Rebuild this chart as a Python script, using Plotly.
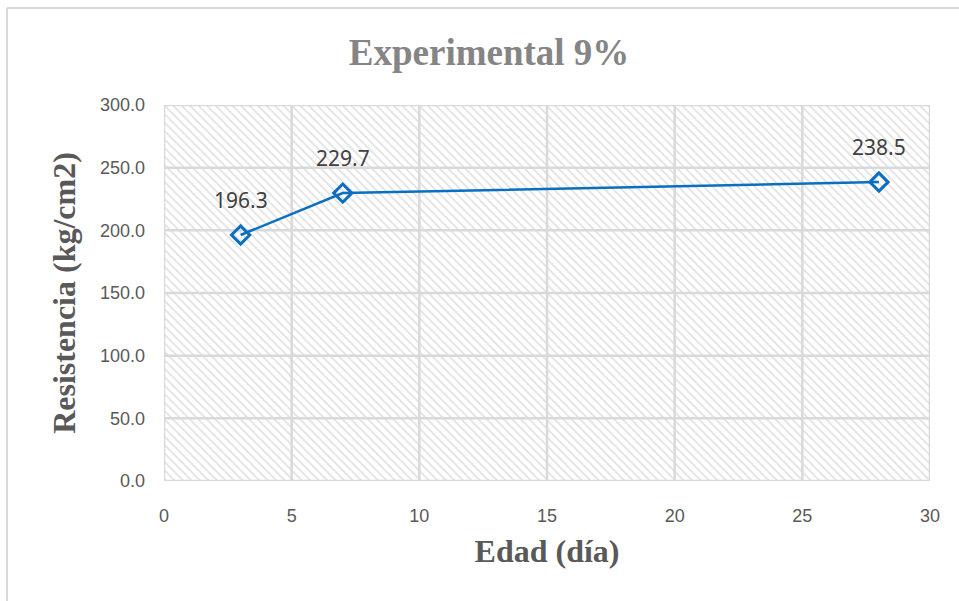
import plotly.graph_objects as go

# Compressive strength over curing age
edad_dias = [3, 7, 28]
resistencia = [196.3, 229.7, 238.5]

x_range = [0, 30]
y_range = [0, 300]
x_ticks = [0, 5, 10, 15, 20, 25, 30]
y_ticks = [0, 50, 100, 150, 200, 250, 300]
y_tick_text = [f"{v:.1f}" for v in y_ticks]

W, H = 959, 601
ML, MR, MT, MB = 164, 29, 105, 120
GRID = "#d9d9d9"

fig = go.Figure()

# Hatched plot-area background
fig.add_trace(go.Scatter(
    x=[x_range[0], x_range[1], x_range[1], x_range[0], x_range[0]],
    y=[y_range[0], y_range[0], y_range[1], y_range[1], y_range[0]],
    mode="lines", line=dict(width=0), fill="toself",
    fillcolor="rgba(0,0,0,0)",
    fillpattern=dict(shape="\\", fgcolor="#c4c4c4", bgcolor="white",
                     size=6, solidity=0.3),
    hoverinfo="skip", showlegend=False,
))

# Gridlines drawn over the hatch, under the data
gx, gy = [], []
for t in x_ticks:
    gx += [t, t, None]
    gy += [y_range[0], y_range[1], None]
for t in y_ticks:
    gx += [x_range[0], x_range[1], None]
    gy += [t, t, None]
fig.add_trace(go.Scatter(x=gx, y=gy, mode="lines",
                         line=dict(color=GRID, width=2.5),
                         hoverinfo="skip", showlegend=False, cliponaxis=False))

fig.add_trace(go.Scatter(
    x=edad_dias, y=resistencia, mode="lines+markers",
    line=dict(color="#0a6fc2", width=2.5),
    marker=dict(symbol="diamond-open", size=14, color="#0a6fc2",
                line=dict(width=3, color="#0a6fc2")),
    showlegend=False,
))

for xv, yv in zip(edad_dias, resistencia):
    fig.add_annotation(x=xv, y=yv, text=f"{yv:.1f}", showarrow=False,
                       yshift=35, font=dict(family="Noto Sans", size=21, color="#404040"))

# Outer chart border (left and top edges)
def px_to_paper_x(px):
    return (px - ML) / (W - ML - MR)

def px_to_paper_y(py):
    return (H - MB - py) / (H - MT - MB)

border = dict(color="#d9d9d9", width=2)
fig.add_shape(type="line", xref="paper", yref="paper",
              x0=px_to_paper_x(7), x1=px_to_paper_x(7),
              y0=px_to_paper_y(8), y1=px_to_paper_y(601), line=border)
fig.add_shape(type="line", xref="paper", yref="paper",
              x0=px_to_paper_x(7), x1=px_to_paper_x(959),
              y0=px_to_paper_y(8), y1=px_to_paper_y(8), line=border)

axis_title_font = dict(family="Liberation Serif", size=32, color="#595959")
tick_font = dict(family="Liberation Sans", size=18, color="#595959")

fig.update_layout(
    width=W, height=H,
    margin=dict(l=ML, r=MR, t=MT, b=MB),
    paper_bgcolor="white", plot_bgcolor="white",
    title=dict(text="<b>Experimental 9%</b>", x=0.51, xanchor="center",
               y=1 - 52 / H, yanchor="middle",
               font=dict(family="Liberation Serif", size=37, color="#858585")),
    xaxis=dict(range=x_range, tickvals=x_ticks, showgrid=False,
               zeroline=False, showline=False, ticks="", tickfont=tick_font,
               ticklabelstandoff=22,
               title=dict(text="<b>Edad (día)</b>", font=axis_title_font, standoff=14)),
    yaxis=dict(range=y_range, tickvals=y_ticks, ticktext=y_tick_text,
               showgrid=False, zeroline=False, showline=False, ticks="",
               tickfont=tick_font, ticklabelstandoff=18,
               title=dict(text="<b>Resistencia (kg/cm2)</b>", font=axis_title_font, standoff=14)),
)

fig.write_html("out.html")
